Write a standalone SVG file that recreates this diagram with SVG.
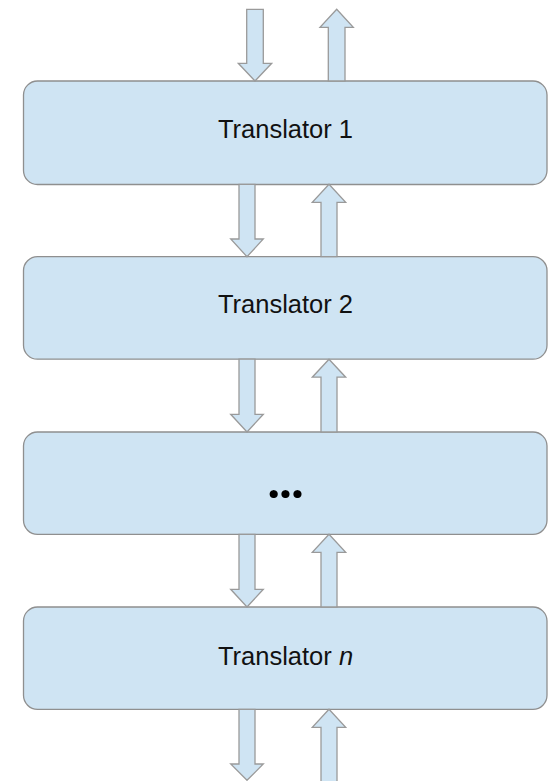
<svg xmlns="http://www.w3.org/2000/svg" width="552" height="781" viewBox="0 0 552 781">
<style>
.box{fill:#cfe4f3;stroke:#8f8f8f;stroke-width:1.3}
.arr{fill:#cfe4f3;stroke:#9a9a9a;stroke-width:1.3;stroke-linejoin:miter}
.lbl{font-family:"Liberation Sans",Arial,sans-serif;font-size:25.5px;fill:#111;text-anchor:middle}
.dots{font-family:Lato,"Liberation Sans",sans-serif;font-weight:900;font-size:50px;fill:#000;text-anchor:middle}
</style>
<rect width="552" height="781" fill="#ffffff"/>
<g id="node1"><rect class="box" x="23.5" y="81" width="523.5" height="103.5" rx="14"/><text class="lbl" x="285.5" y="138.3">Translator 1</text></g>
<g id="node2"><rect class="box" x="23.5" y="256.7" width="523.5" height="102.5" rx="14"/><text class="lbl" x="285.5" y="313.3">Translator 2</text></g>
<g id="node3"><rect class="box" x="23.5" y="432" width="523.5" height="102.3" rx="14"/><text class="dots" x="285.5" y="497.5" letter-spacing="0">...</text></g>
<g id="node4"><rect class="box" x="23.5" y="607" width="523.5" height="102.3" rx="14"/><text class="lbl" x="285.5" y="665">Translator <tspan font-style="italic">n</tspan></text></g>
<g id="connectors">
<path class="arr" d="M246.7,9.3 H263.3 V63.3 H271.7 L255,81 L238.3,63.3 H246.7 Z"/>
<path class="arr" d="M328.3,81 V27.3 H320 L336.7,9.3 L353.3,27.3 H345 V81 Z"/>
<path class="arr" d="M239,184.3 H255 V239 H263.3 L247,256.7 L230.7,239 H239 Z"/>
<path class="arr" d="M321,256.7 V202.3 H312.3 L329,184.3 L345.7,202.3 H337 V256.7 Z"/>
<path class="arr" d="M239,359.2 H255 V414.3 H263.3 L247,432 L230.7,414.3 H239 Z"/>
<path class="arr" d="M321,432 V377.2 H312.3 L329,359.2 L345.7,377.2 H337 V432 Z"/>
<path class="arr" d="M239,534.3 H255 V589.3 H263.3 L247,607 L230.7,589.3 H239 Z"/>
<path class="arr" d="M321,607 V552.3 H312.3 L329,534.3 L345.7,552.3 H337 V607 Z"/>
<path class="arr" d="M239,709.3 H255 V764 H263.3 L247,780.3 L230.7,764 H239 Z"/>
<path class="arr" d="M321,782 V727.3 H312.3 L329,709.3 L345.7,727.3 H337 V782 Z"/>
</g>
</svg>
